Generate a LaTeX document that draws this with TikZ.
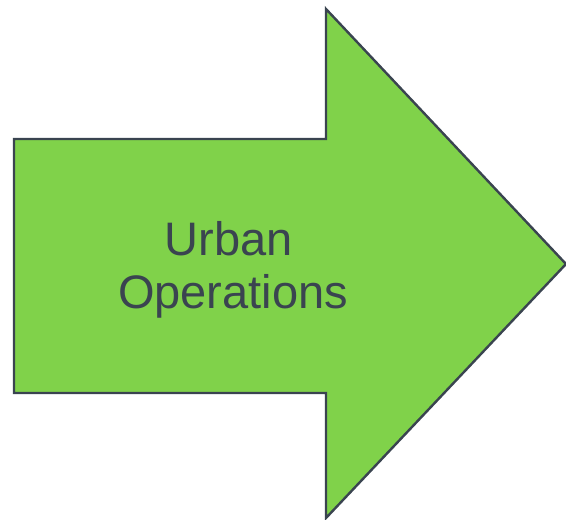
\documentclass[tikz,border=0pt]{standalone}
\usepackage{fontspec}
\setmainfont{Liberation Sans}
\definecolor{arrowgreen}{HTML}{80D24A}
\definecolor{edgegray}{HTML}{3A4450}

\begin{document}
\begin{tikzpicture}[x=1pt, y=-1pt, label/.style = {align=center, text=edgegray, font=\fontsize{47}{53}\selectfont, inner sep=0pt}]

\useasboundingbox (0,0) rectangle (566,520);

% Arrow
\draw[fill=arrowgreen, draw=edgegray, line width=2.4pt, line join=miter]
  (14,139) -- (326,139) -- (326,9) -- (566,264) -- (326,518) -- (326,393) -- (14,393) -- cycle;

% Label
\node[label] (urbanops) at (233,270) {Urban\kern8pt\\Operations};

\end{tikzpicture}
\end{document}
